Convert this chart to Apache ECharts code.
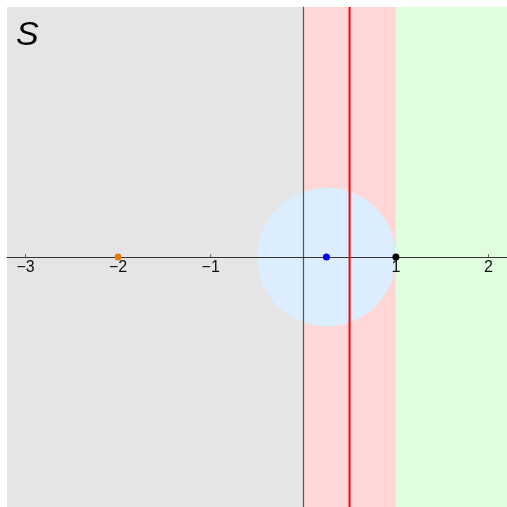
<!DOCTYPE html>
<html><head><meta charset="utf-8">
<script src="https://cdn.jsdelivr.net/npm/echarts@6/dist/echarts.min.js"></script>
<style>html,body{margin:0;padding:0;background:#fff}#c{width:507px;height:507px}</style>
</head><body><div id="c"></div>
<script>
const xRange = [-3.2, 2.2];
const yRange = [-2.7, 2.7];
const xTicks = [-3, -2, -1, 1, 2];
const regionBounds = [[-3.2, 0], [0, 1], [1, 2.2]];
const regionColors = ['#e5e5e5', '#ffd7d7', '#e0fde0'];
const circleCenter = [0.25, 0];
const circleRadius = 0.75;
const redLineX = 0.5;
const points = [[-2, 0], [0.25, 0], [1, 0]];
const pointColors = ['#e67a0e', '#0000ff', '#000000'];
const label = 'S';

const fmt = v => (v < 0 ? '\u2212' + Math.abs(v) : String(v));
const chart = echarts.init(document.getElementById('c'));
chart.setOption({
  animation: false,
  grid: {left: 7, top: 7, right: 0, bottom: 0, containLabel: false, outerBoundsMode: 'none'},
  xAxis: {
    type: 'value', min: xRange[0], max: xRange[1], z: 5,
    axisLine: {onZero: true, lineStyle: {color: '#333', width: 1}},
    axisTick: {show: false}, axisLabel: {show: false}, splitLine: {show: false}
  },
  yAxis: {
    type: 'value', min: yRange[0], max: yRange[1], z: 5,
    axisLine: {onZero: true, lineStyle: {color: '#555', width: 1.2}},
    axisTick: {show: false}, axisLabel: {show: false}, splitLine: {show: false}
  },
  graphic: [{type: 'text', left: 16, top: 19, z: 10,
    style: {text: label, fontSize: 34, fontStyle: 'italic', fontFamily: 'Liberation Sans, Arial', fill: '#000'}}],
  series: [
    {
      type: 'custom', z: 1, silent: true,
      data: regionBounds.map((b, i) => [b[0], b[1], i]),
      renderItem: (params, api) => {
        const p0 = api.coord([api.value(0), yRange[1]]);
        const p1 = api.coord([api.value(1), yRange[0]]);
        return {type: 'rect', shape: {x: p0[0], y: p0[1], width: p1[0] - p0[0], height: p1[1] - p0[1]},
          style: {fill: regionColors[api.value(2)]}};
      }
    },
    {
      type: 'custom', z: 2, silent: true,
      data: [[circleCenter[0], circleCenter[1], circleRadius]],
      renderItem: (params, api) => {
        const c = api.coord([api.value(0), api.value(1)]);
        const r = api.size([api.value(2), 0])[0];
        return {type: 'circle', shape: {cx: c[0], cy: c[1], r: r}, style: {fill: '#dcedfd'}};
      }
    },
    {
      type: 'custom', z: 6, silent: true,
      data: xTicks.map(v => [v, 0]),
      renderItem: (params, api) => {
        const c = api.coord([api.value(0), api.value(1)]);
        return {type: 'group', children: [
          {type: 'line', shape: {x1: c[0], y1: c[1], x2: c[0], y2: c[1] - 3}, style: {stroke: '#666', lineWidth: 1}},
          {type: 'text', x: c[0], y: c[1] + 3, style: {text: fmt(api.value(0)), fontSize: 16,
            fontFamily: 'Liberation Sans, Arial', fill: '#111', align: 'center', verticalAlign: 'top'}}
        ]};
      }
    },
    {
      type: 'line', z: 6, silent: true, symbol: 'none',
      data: [[redLineX, yRange[0]], [redLineX, yRange[1]]],
      lineStyle: {color: '#ff0000', width: 2}
    },
    {
      type: 'scatter', z: 8, symbolSize: 7,
      data: points.map((p, i) => ({value: p, itemStyle: {color: pointColors[i], opacity: 1}}))
    }
  ]
});
</script></body></html>
